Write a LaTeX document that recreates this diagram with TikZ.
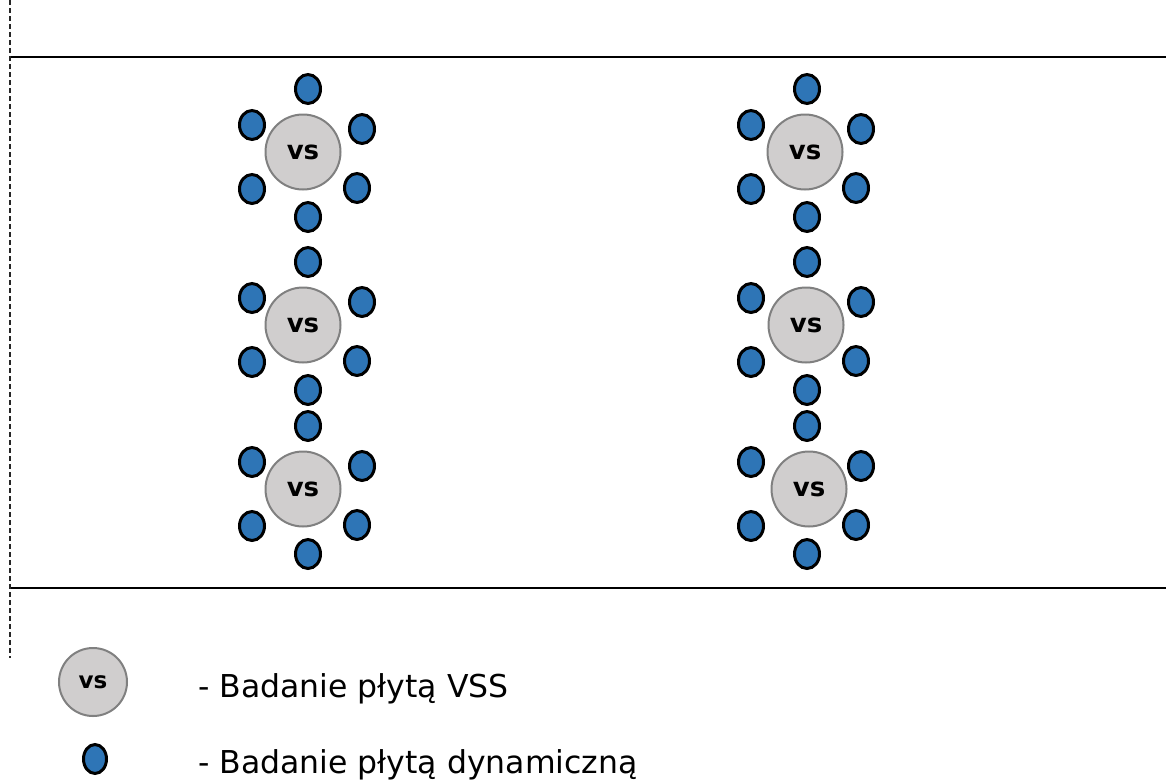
\documentclass[tikz,border=0pt]{standalone}
\usepackage{fontspec}
\setmainfont{DejaVu Sans}
\usetikzlibrary{shapes.geometric}
\definecolor{dotblue}{HTML}{2E75B6}
\definecolor{platefill}{HTML}{D0CECE}
\definecolor{plateedge}{HTML}{808080}
\tikzset{
  plate/.style={circle, draw=plateedge, line width=2pt, fill=platefill,
    minimum size=75pt, inner sep=0pt, font=\fontsize{26}{26}\selectfont\bfseries},
  legendplate/.style={plate, minimum size=68pt, font=\fontsize{23}{23}\selectfont\bfseries},
  dyn/.style={ellipse, draw=black, line width=3pt, fill=dotblue,
    minimum width=25pt, minimum height=29pt, inner sep=0pt},
  boundary/.style={line width=1.3pt, black},
  axisline/.style={line width=1.2pt, black!85, dash pattern=on 5pt off 3pt},
  legendtext/.style={anchor=base west, inner sep=0pt, font=\fontsize{31.5}{32}\selectfont}
}
\begin{document}
\begin{tikzpicture}[x=1pt, y=-1pt]
\useasboundingbox (0,0) rectangle (1166,779);

% road edges and axis
\coordinate (topL) at (10,57);
\coordinate (topR) at (1166,57);
\coordinate (botL) at (10,588);
\coordinate (botR) at (1166,588);
\coordinate (axS) at (10,0);
\coordinate (axE) at (10,658);
\draw[boundary] (topL) -- (topR);
\draw[boundary] (botL) -- (botR);
\draw[axisline] (axS) -- (axE);

% test clusters: VSS plate in the middle, six dynamic plate points around it
\foreach \cx/\cy/\vx/\nm in {308/89/303/a1, 308/262/303/a2, 308/426/303/a3,
                              807/89/805/b1, 807/262/806/b2, 807/426/809/b3} {
  \node[plate] (\nm-vs) at (\vx,\cy+63) {vs};
  \node[dyn] (\nm-t)  at (\cx,\cy) {};
  \node[dyn] (\nm-ul) at (\cx-56,\cy+36) {};
  \node[dyn] (\nm-ur) at (\cx+54,\cy+40) {};
  \node[dyn] (\nm-ll) at (\cx-56,\cy+100) {};
  \node[dyn] (\nm-lr) at (\cx+49,\cy+99) {};
  \node[dyn] (\nm-b)  at (\cx,\cy+128) {};
}

% legend
\node[legendplate] (legvs) at (93,682) {vs};
\node[dyn, minimum width=23pt] (legdyn) at (95,759) {};
\node[legendtext] (legvstext) at (198,697) {- Badanie płytą VSS};
\node[legendtext] (legdyntext) at (198,773) {- Badanie płytą dynamiczną};
\end{tikzpicture}
\end{document}
